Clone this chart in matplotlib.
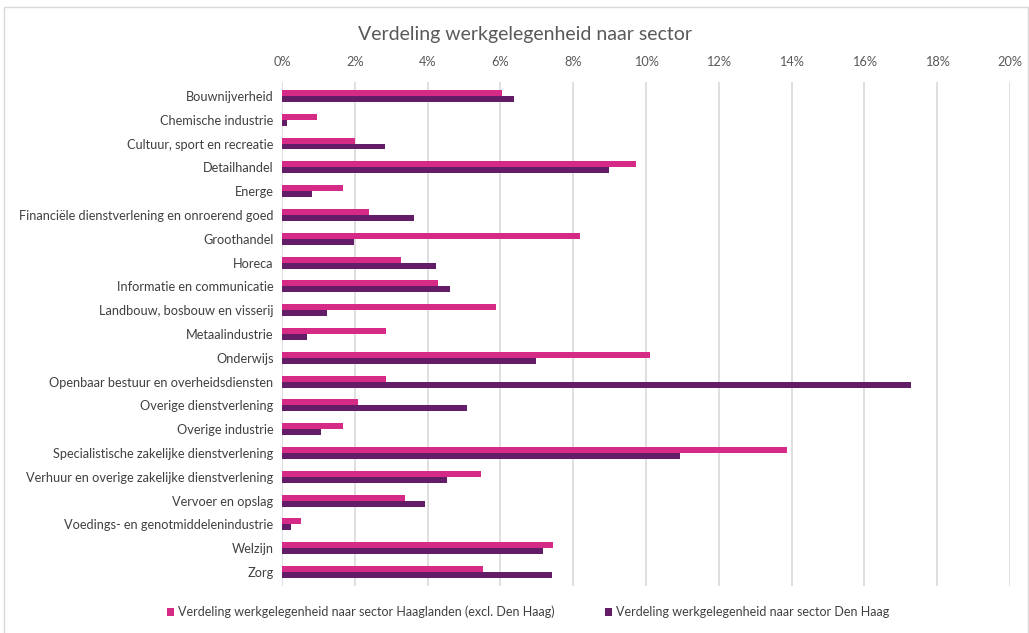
import numpy as np
import matplotlib
matplotlib.use("Agg")
import matplotlib.pyplot as plt
from matplotlib.patches import Rectangle
from matplotlib.ticker import FuncFormatter

sectoren = [
    "Bouwnijverheid", "Chemische industrie", "Cultuur, sport en recreatie",
    "Detailhandel", "Energe", "Financiële dienstverlening en onroerend goed",
    "Groothandel", "Horeca", "Informatie en communicatie",
    "Landbouw, bosbouw en visserij", "Metaalindustrie", "Onderwijs",
    "Openbaar bestuur en overheidsdiensten", "Overige dienstverlening",
    "Overige industrie", "Specialistische zakelijke dienstverlening",
    "Verhuur en overige zakelijke dienstverlening", "Vervoer en opslag",
    "Voedings- en genotmiddelenindustrie", "Welzijn", "Zorg",
]
haaglanden = [6.05, 0.95, 2.00, 9.73, 1.68, 2.40, 8.20, 3.28, 4.28, 5.88, 2.86,
              10.11, 2.86, 2.10, 1.67, 13.87, 5.46, 3.38, 0.52, 7.45, 5.51]
den_haag = [6.37, 0.14, 2.82, 8.99, 0.82, 3.62, 1.98, 4.24, 4.63, 1.23, 0.68,
            6.97, 17.29, 5.08, 1.07, 10.93, 4.54, 3.94, 0.26, 7.18, 7.42]
x_ticks = [0, 2, 4, 6, 8, 10, 12, 14, 16, 18, 20]

roze = "#D62A87"
paars = "#631C66"
grijs = "#595959"

plt.rcParams["font.family"] = ["Lato", "DejaVu Sans"]

fig = plt.figure(figsize=(10.29, 6.33), dpi=100)
ax = fig.add_axes([0.274, 0.0738, 0.7075, 0.7972])

y = np.arange(len(sectoren))
h = 0.25
ax.barh(y - h / 2, haaglanden, height=h, color=roze,
        label="Verdeling werkgelegenheid naar sector Haaglanden (excl. Den Haag)", zorder=3)
ax.barh(y + h / 2, den_haag, height=h, color=paars,
        label="Verdeling werkgelegenheid naar sector Den Haag", zorder=3)

ax.set_ylim(len(sectoren) - 0.4, -0.6)
ax.set_xlim(0, 20)
ax.set_yticks(y)
ax.set_yticklabels(sectoren, fontsize=9.2, color="#404040")
ax.set_xticks(x_ticks)
ax.xaxis.set_major_formatter(FuncFormatter(lambda v, p: f"{v:.0f}%"))
ax.xaxis.tick_top()
ax.tick_params(axis="x", labelsize=9.2, colors=grijs, length=0, pad=10)
ax.tick_params(axis="y", length=0, pad=6)
ax.grid(axis="x", color="#d9d9d9", linewidth=1.2, zorder=0)
for s in ax.spines.values():
    s.set_visible(False)

fig.text(0.51, 0.945, "Verdeling werkgelegenheid naar sector", ha="center", va="center",
         fontsize=14, color=grijs)

fig.legend(loc="center", bbox_to_anchor=(0.513, 0.033), ncol=2, frameon=False,
           fontsize=9, handlelength=0.6, handleheight=0.6, handletextpad=0.3,
           columnspacing=4, labelcolor="#404040")

fig.patches.append(Rectangle((0.004, -0.01), 0.995, 0.999, transform=fig.transFigure,
                             fill=False, edgecolor="#d9d9d9", linewidth=1))

fig.savefig("out.png", dpi=100)
